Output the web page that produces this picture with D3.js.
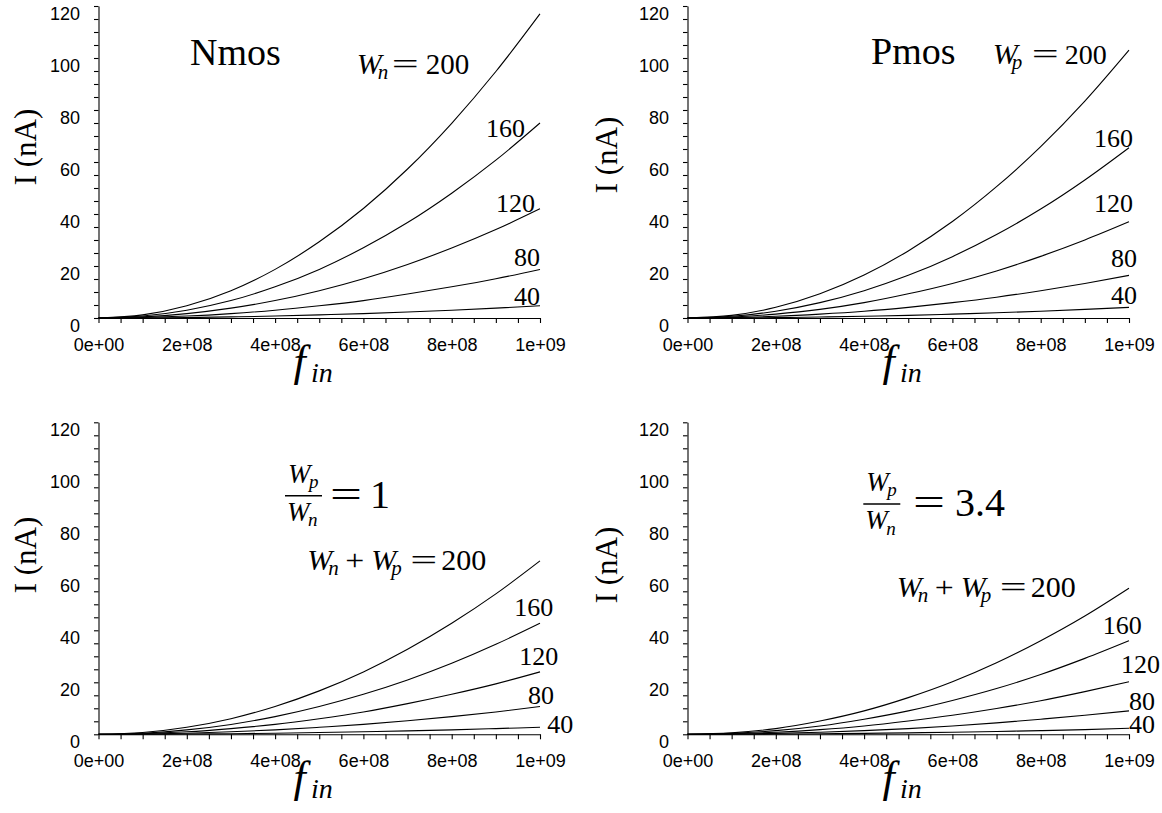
<!DOCTYPE html>
<html><head><meta charset="utf-8">
<script src="https://cdn.jsdelivr.net/npm/d3@7"></script>
<style>
html,body{margin:0;padding:0;background:#fff;} svg{display:block;}
</style>
</head><body>
<svg id="c" width="1162" height="813"></svg>
<script>
// ---------- data ----------
const fin = [0, 1e8, 2e8, 3e8, 4e8, 5e8, 6e8, 7e8, 8e8, 9e8, 1e9];
const widths = [200, 160, 120, 80, 40];
// current I (nA), one row per width
const nmosI = [
  [0, 1.2, 4.7, 10.5, 18.7, 29.3, 42.1, 57.3, 74.9, 94.8, 117],
  [0, 0.75, 3.0, 6.7, 12.0, 18.7, 27.0, 36.7, 48.0, 60.7, 75],
  [0, 0.42, 1.7, 3.8, 6.7, 10.5, 15.1, 20.6, 26.9, 34.0, 42],
  [0, 0.19, 0.75, 1.7, 3.0, 4.7, 6.7, 9.2, 12.0, 15.1, 18.7],
  [0, 0.05, 0.19, 0.42, 0.75, 1.2, 1.7, 2.3, 3.0, 3.8, 4.7]
];
const pmosI = [
  [0, 1.0, 4.1, 9.3, 16.5, 25.8, 37.1, 50.5, 65.9, 83.4, 103],
  [0, 0.66, 2.6, 5.9, 10.5, 16.4, 23.6, 32.1, 41.9, 53.1, 65.5],
  [0, 0.37, 1.5, 3.3, 5.9, 9.3, 13.3, 18.1, 23.7, 30.0, 37],
  [0, 0.16, 0.66, 1.5, 2.6, 4.1, 5.9, 8.0, 10.5, 13.3, 16.4],
  [0, 0.04, 0.16, 0.37, 0.66, 1.0, 1.5, 2.0, 2.6, 3.3, 4.1]
];
const ratio1I = [
  [0, 0.67, 2.7, 6.0, 10.7, 16.7, 24.0, 32.7, 42.7, 54.0, 66.7],
  [0, 0.43, 1.7, 3.8, 6.8, 10.7, 15.4, 20.9, 27.3, 34.6, 42.7],
  [0, 0.24, 0.96, 2.2, 3.8, 6.0, 8.6, 11.8, 15.4, 19.4, 24.0],
  [0, 0.11, 0.43, 0.96, 1.7, 2.7, 3.8, 5.2, 6.8, 8.6, 10.7],
  [0, 0.03, 0.11, 0.24, 0.43, 0.67, 0.96, 1.3, 1.7, 2.2, 2.7]
];
const ratio34I = [
  [0, 0.56, 2.2, 5.1, 9.0, 14.1, 20.2, 27.5, 36.0, 45.5, 56.2],
  [0, 0.36, 1.4, 3.2, 5.8, 9.0, 13.0, 17.6, 23.0, 29.2, 36.0],
  [0, 0.20, 0.81, 1.8, 3.2, 5.1, 7.3, 9.9, 12.9, 16.4, 20.2],
  [0, 0.09, 0.36, 0.81, 1.4, 2.2, 3.2, 4.4, 5.8, 7.3, 9.0],
  [0, 0.02, 0.09, 0.20, 0.36, 0.56, 0.81, 1.1, 1.4, 1.8, 2.3]
];
const yTickLabels = [0, 20, 40, 60, 80, 100, 120];
const xTickValues = [0, 2e8, 4e8, 6e8, 8e8, 1e9];
const xTickLabels = ["0e+00", "2e+08", "4e+08", "6e+08", "8e+08", "1e+09"];
const yTitle = "I (nA)";

// ---------- layout ----------
const SERIF = "Liberation Serif";
const SANS = "Liberation Sans";
const panels = [
  {data: nmosI,   xr: [98.5, 540],  yr: [318, 6],       ytx: 36,  yty: 147,
   offs: [null, [-15, 14], [-5, 3], [0, -3.3], [0, -1]]},
  {data: pmosI,   xr: [687.5, 1129], yr: [318, 6],      ytx: 617, yty: 155,
   offs: [null, [4, -0.6], [4, -10], [8, -8.6], [8, -3.3]]},
  {data: ratio1I, xr: [98.5, 540],  yr: [734.3, 422.3], ytx: 36,  yty: 555,
   offs: [null, [13.3, -7.3], [18.3, -7.3], [14, -2.7], [33.3, 5.6]]},
  {data: ratio34I, xr: [687.5, 1129], yr: [734.3, 422.3], ytx: 617, yty: 565,
   offs: [null, [12.7, -6.7], [31, -9], [26, -1.4], [26, 5]]}
];

const svg = d3.select("#c");

function pieces(x, y, list) {
  list.forEach(p => {
    const t = svg.append("text")
      .attr("x", x + p.dx).attr("y", y + (p.dy || 0))
      .style("font-family", SERIF)
      .style("font-size", p.s + "px")
      .style("font-style", p.i ? "italic" : "normal")
      .attr("fill", "#000").text(p.t);
    if (p.len) t.attr("textLength", p.len).attr("lengthAdjust", "spacingAndGlyphs");
  });
}

panels.forEach(P => {
  const x = d3.scaleLinear().domain([0, 1e9]).range(P.xr);
  const y = d3.scaleLinear().domain([0, 120]).range(P.yr);
  const g = svg.append("g");

  // y axis
  const ya = d3.axisLeft(y).tickValues(d3.range(0, 121, 5)).tickSize(4.5).tickSizeOuter(0)
    .tickFormat(d => yTickLabels.includes(d) ? d : "");
  const gy = g.append("g").attr("transform", `translate(${P.xr[0]},0)`).call(ya);
  gy.selectAll("text").attr("x", -18.5).attr("y", 7.5).attr("dy", "0.32em")
    .style("font-family", SANS).style("font-size", "18px").attr("fill", "#000");

  // x axis
  const xa = d3.axisBottom(x).tickValues(d3.range(0, 1e9 + 1, 5e7)).tickSize(5).tickSizeOuter(0)
    .tickFormat(d => { const i = xTickValues.findIndex(v => Math.abs(v - d) < 1); return i >= 0 ? xTickLabels[i] : ""; });
  const gx = g.append("g").attr("transform", `translate(0,${P.yr[0]})`).call(xa);
  gx.selectAll("text").attr("y", 20).attr("dy", "0.71em")
    .style("font-family", SANS).style("font-size", "18px").attr("fill", "#000");

  [gx, gy].forEach(a => {
    a.select(".domain").attr("stroke", "#000").attr("stroke-width", 1.1);
    a.selectAll(".tick line").attr("stroke", "#000").attr("stroke-width", 1.1);
  });

  // curves
  const line = d3.line().x((d, i) => x(fin[i])).y(d => y(d)).curve(d3.curveMonotoneX);
  g.selectAll("path.curve").data(P.data).enter().append("path")
    .attr("class", "curve").attr("d", line)
    .attr("fill", "none").attr("stroke", "#000").attr("stroke-width", 1.1);

  // curve labels
  P.data.forEach((row, k) => {
    const o = P.offs[k];
    if (!o) return;
    g.append("text")
      .attr("x", x(fin[fin.length - 1]) + o[0])
      .attr("y", y(row[row.length - 1]) + o[1])
      .attr("text-anchor", "end")
      .style("font-family", SERIF).style("font-size", "26px").attr("fill", "#000")
      .text(widths[k]);
  });

  // y title
  g.append("text")
    .attr("transform", `translate(${P.ytx},${P.yty}) rotate(-90)`)
    .attr("text-anchor", "middle")
    .style("font-family", SERIF).style("font-size", "31px").attr("fill", "#000")
    .text(yTitle);

  // x title f_in
  pieces(P.xr[0] + 195, P.yr[0] + 58, [
    {t: "f", dx: 0, s: 44, i: 1},
    {t: "in", dx: 17.5, dy: 6, s: 28, i: 1}
  ]);
});

// panel titles and equations
svg.append("text").attr("x", 190).attr("y", 65)
  .style("font-family", SERIF).style("font-size", "38px").text("Nmos");
svg.append("text").attr("x", 871).attr("y", 64)
  .style("font-family", SERIF).style("font-size", "38px").text("Pmos");

pieces(356.7, 74, [
  {t: "W", dx: 0, s: 30, i: 1},
  {t: "n", dx: 21, dy: 5, s: 21, i: 1},
  {t: "=", dx: 35, s: 30, len: 27},
  {t: "200", dx: 69, s: 29}
]);
pieces(992.7, 64, [
  {t: "W", dx: 0, s: 30, i: 1},
  {t: "p", dx: 19, dy: 5, s: 21, i: 1},
  {t: "=", dx: 39, s: 30, len: 27},
  {t: "200", dx: 72, s: 28}
]);

const sumEq = [
  {t: "W", dx: 0, s: 30, i: 1},
  {t: "n", dx: 21, dy: 5, s: 21, i: 1},
  {t: "+", dx: 38, s: 30, len: 19},
  {t: "W", dx: 64, s: 30, i: 1},
  {t: "p", dx: 84, dy: 5, s: 21, i: 1},
  {t: "=", dx: 103, s: 30, len: 27},
  {t: "200", dx: 134, s: 30}
];
pieces(307.3, 570, sumEq);
pieces(896.7, 597.3, sumEq);

function fraction(x, yBar, value, eqX, valX) {
  pieces(x, yBar, [
    {t: "W", dx: 3, dy: -13, s: 27, i: 1},
    {t: "p", dx: 24, dy: -8, s: 19, i: 1},
    {t: "W", dx: 2, dy: 25, s: 27, i: 1},
    {t: "n", dx: 23, dy: 30.5, s: 19, i: 1}
  ]);
  svg.append("line").attr("x1", x).attr("x2", x + 37).attr("y1", yBar).attr("y2", yBar)
    .attr("stroke", "#000").attr("stroke-width", 1.6);
  pieces(x, yBar + 12, [
    {t: "=", dx: eqX, s: 40, len: 32},
    {t: value, dx: valX, s: 40}
  ]);
}
fraction(285, 495.7, "1", 45, 85);
fraction(863.3, 504, "3.4", 49.7, 91.7);
</script>
</body></html>
